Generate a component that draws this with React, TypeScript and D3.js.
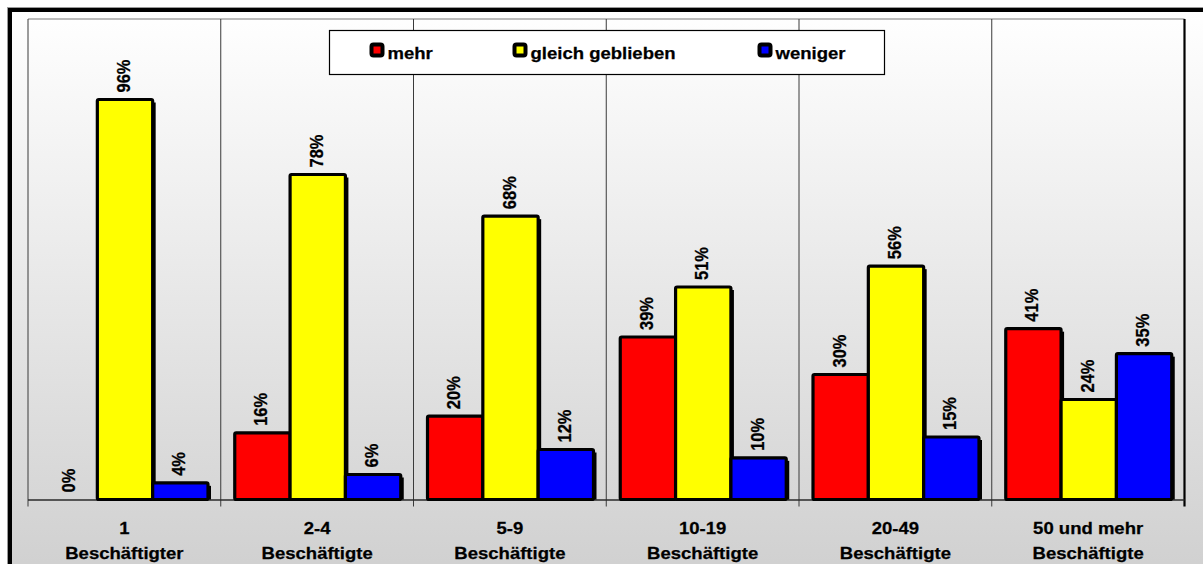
import React, { useEffect, useRef } from 'react';
import * as d3 from 'd3';

// Beschäftigtengrößenklassen (zweizeilige Beschriftung)
const categoryTop = ['1', '2-4', '5-9', '10-19', '20-49', '50 und mehr'];
const categoryBottom = ['Beschäftigter', 'Beschäftigte', 'Beschäftigte', 'Beschäftigte', 'Beschäftigte', 'Beschäftigte'];

const seriesNames = ['mehr', 'gleich geblieben', 'weniger'];
const seriesColors = ['#ff0000', '#ffff00', '#0000ff'];

// Anteile in %
const mehr = [0, 16, 20, 39, 30, 41];
const gleich = [96, 78, 68, 51, 56, 24];
const weniger = [4, 6, 12, 10, 15, 35];

const FONT = "'Liberation Sans', Arial, Helvetica, sans-serif";
const STRETCH = 1.09; // the original chart is slightly stretched horizontally

export default function App() {
  const svgRef = useRef<SVGSVGElement>(null);

  useEffect(() => {
    if (!svgRef.current) return;
    const svg = d3.select(svgRef.current);
    svg.selectAll('*').remove();

    const width = 1203;
    const height = 564;
    const left = 28;
    const right = 1184.5;
    const top = 19;
    const baseline = 499.5;

    const values = [mehr, gleich, weniger];

    const x0 = d3.scaleBand<number>()
      .domain(d3.range(categoryTop.length))
      .range([left, right])
      .paddingInner(0)
      .paddingOuter(0);

    const x1 = d3.scaleBand<number>()
      .domain(d3.range(seriesNames.length))
      .range([14, 180])
      .padding(0);

    const y = d3.scaleLinear().domain([0, 120]).range([baseline, -0.5]);

    svg.attr('width', width).attr('height', height).style('font-family', FONT);

    const defs = svg.append('defs');
    const grad = defs.append('linearGradient')
      .attr('id', 'bg')
      .attr('gradientUnits', 'userSpaceOnUse')
      .attr('x1', 0).attr('y1', 10)
      .attr('x2', 0).attr('y2', 575);
    grad.append('stop').attr('offset', 0).attr('stop-color', '#ffffff');
    grad.append('stop').attr('offset', 1).attr('stop-color', '#d0d0d0');

    // chart area with heavy frame
    svg.append('rect')
      .attr('x', 7.5).attr('y', 7.5)
      .attr('width', 1400).attr('height', 800)
      .attr('fill', 'none')
      .attr('stroke', '#9a9a9a')
      .attr('stroke-width', 1);
    svg.append('rect')
      .attr('x', 10).attr('y', 10)
      .attr('width', 1400).attr('height', 800)
      .attr('fill', 'url(#bg)')
      .attr('stroke', '#000')
      .attr('stroke-width', 4);

    // plot area border + category separators
    svg.append('line')
      .attr('x1', left).attr('x2', right)
      .attr('y1', top).attr('y2', top)
      .attr('stroke', '#7a7a7a').attr('stroke-width', 1.2);

    const bounds = d3.range(categoryTop.length + 1).map(i =>
      i < categoryTop.length ? (x0(i) as number) : right);

    svg.append('g')
      .selectAll('line')
      .data(bounds)
      .join('line')
      .attr('x1', d => d).attr('x2', d => d)
      .attr('y1', top).attr('y2', baseline + 7)
      .attr('stroke', (d, i) => i === bounds.length - 1 ? '#000' : '#3a3a3a')
      .attr('stroke-width', (d, i) => i === bounds.length - 1 ? 2.2 : 1);

    svg.append('line')
      .attr('x1', left).attr('x2', right)
      .attr('y1', baseline + 0.5).attr('y2', baseline + 0.5)
      .attr('stroke', '#2a2a2a').attr('stroke-width', 1.3);

    // bars
    const groups = svg.append('g')
      .selectAll('g')
      .data(categoryTop.map((_, i) => i))
      .join('g')
      .attr('transform', i => `translate(${x0(i)},0)`);

    groups.each(function (ci) {
      const g = d3.select(this);
      values.forEach((series, si) => {
        const v = series[ci];
        const bx = x1(si) as number;
        const bw = x1.bandwidth();
        if (v > 0) {
          g.append('rect')
            .attr('x', bx + 3)
            .attr('y', y(v) + 3)
            .attr('width', bw)
            .attr('height', Math.max(0, baseline - y(v) - 3))
            .attr('fill', '#000');
          g.append('rect')
            .attr('x', bx)
            .attr('y', y(v))
            .attr('width', bw)
            .attr('height', baseline - y(v))
            .attr('fill', seriesColors[si])
            .attr('stroke', '#000')
            .attr('stroke-width', 3.2)
            .attr('rx', 1.5);
        }
      });
    });

    // value labels, rotated
    groups.each(function (ci) {
      const g = d3.select(this);
      values.forEach((series, si) => {
        const v = series[ci];
        const cx = (x1(si) as number) + x1.bandwidth() / 2 + 5;
        g.append('text')
          .attr('transform', `translate(${cx},${y(v) - 7}) scale(${STRETCH},1) rotate(-90)`)
          .attr('text-anchor', 'start')
          .attr('fill', '#000')
          .attr('stroke', '#000')
          .attr('stroke-width', 0.25)
          .style('font-size', '16.5px')
          .style('font-weight', 700)
          .text(`${v}%`);
      });
    });

    // category labels
    const cat = svg.append('g');
    categoryTop.forEach((t, i) => {
      const cx = (x0(i) as number) + x0.bandwidth() / 2;
      [t, categoryBottom[i]].forEach((line, li) => {
        cat.append('text')
          .attr('transform', `translate(${cx},${534 + li * 25}) scale(${STRETCH},1)`)
          .attr('text-anchor', 'middle')
          .attr('fill', '#000')
          .attr('stroke', '#000')
          .attr('stroke-width', 0.25)
          .style('font-size', '17px')
          .style('font-weight', 700)
          .text(line);
      });
    });

    // legend
    const legend = svg.append('g');
    legend.append('rect')
      .attr('x', 329.5).attr('y', 30.5)
      .attr('width', 555).attr('height', 44)
      .attr('fill', '#fff')
      .attr('stroke', '#000')
      .attr('stroke-width', 1.2);

    const legendX = [370, 513, 758];
    seriesNames.forEach((name, i) => {
      legend.append('rect')
        .attr('x', legendX[i] + 1.5).attr('y', 44.5)
        .attr('width', 11).attr('height', 11)
        .attr('rx', 2)
        .attr('fill', seriesColors[i])
        .attr('stroke', '#000')
        .attr('stroke-width', 4);
      legend.append('text')
        .attr('transform', `translate(${legendX[i] + 17.5},58.5) scale(${STRETCH},1)`)
        .attr('fill', '#000')
        .attr('stroke', '#000')
        .attr('stroke-width', 0.25)
        .style('font-size', '17px')
        .style('font-weight', 700)
        .text(name);
    });
  }, []);

  return (
    <div style={{ position: 'fixed', left: 0, top: 0, width: 1203, height: 564, overflow: 'hidden', background: '#fff' }}>
      <svg ref={svgRef} style={{ display: 'block' }} />
    </div>
  );
}
